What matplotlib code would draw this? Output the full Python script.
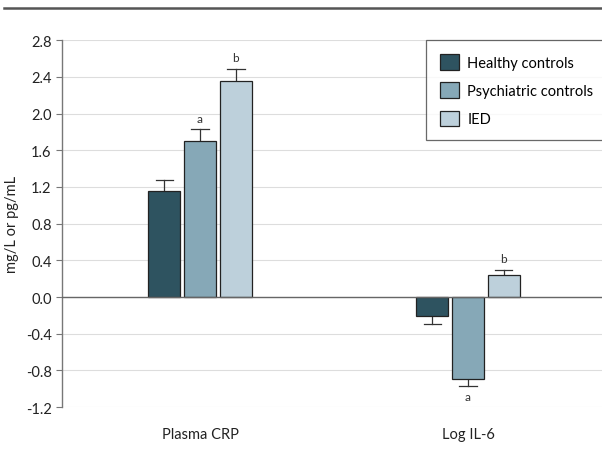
import matplotlib
matplotlib.use("Agg")
import matplotlib.pyplot as plt
from matplotlib.lines import Line2D
import numpy as np

plt.rcParams['font.family'] = ['Lato', 'DejaVu Sans']

# data
categories = ["Plasma CRP", "Log IL-6"]
groups = ["Healthy controls", "Psychiatric controls", "IED"]
means = {
    "Healthy controls": [1.155, -0.21],
    "Psychiatric controls": [1.70, -0.89],
    "IED": [2.35, 0.235],
}
errs = {
    "Healthy controls": [0.12, 0.08],
    "Psychiatric controls": [0.13, 0.08],
    "IED": [0.14, 0.065],
}
# significance letters: (category index, group, letter)
marks = [(0, "Psychiatric controls", "a"), (0, "IED", "b"),
         (1, "IED", "b"), (1, "Psychiatric controls", "a")]
colors = ["#2e5360", "#86a8b7", "#bdd0db"]
yticks = [-1.2, -0.8, -0.4, 0.0, 0.4, 0.8, 1.2, 1.6, 2.0, 2.4, 2.8]

fig = plt.figure(figsize=(6.02, 4.52), dpi=100)
ax = fig.add_axes([0.103, 0.097, 0.897, 0.812])

x = np.arange(len(categories))
w = 0.12
step = 0.134
for i, g in enumerate(groups):
    xs = x + (i - 1) * step
    ax.bar(xs, means[g], width=w, color=colors[i], edgecolor="#222222",
           linewidth=0.9, zorder=3, label=g)
    # one-sided error bars away from zero
    for xi, m, e in zip(xs, means[g], errs[g]):
        sgn = 1 if m >= 0 else -1
        ax.plot([xi, xi], [m, m + sgn * e], color="#333333", lw=0.9, zorder=2)
        ax.plot([xi - 0.032, xi + 0.032], [m + sgn * e] * 2, color="#333333",
                lw=0.9, zorder=2)

for ci, g, letter in marks:
    gi = groups.index(g)
    m = means[g][ci]
    e = errs[g][ci]
    xi = x[ci] + (gi - 1) * step
    if m >= 0:
        ax.text(xi, m + e + 0.06, letter, ha="center", va="bottom",
                fontsize=8.5, color="#333333")
    else:
        ax.text(xi, m - e - 0.05, letter, ha="center", va="top",
                fontsize=8.5, color="#333333")

ax.set_ylim(-1.2, 2.8)
ax.set_xlim(-0.515, 1.5)
ax.set_yticks(yticks)
ax.set_yticklabels([f"{t:.1f}" for t in yticks])
ax.set_xticks(x)
ax.set_xticklabels(categories)
ax.tick_params(axis="x", length=0, pad=14, labelsize=10.5, colors="#222222")
ax.tick_params(axis="y", length=4, width=0.8, color="#777777", labelsize=10.5,
               labelcolor="#222222")
ax.set_ylabel("mg/L or pg/mL", fontsize=10.5, color="#222222", labelpad=5)

for s in ["top", "right", "bottom"]:
    ax.spines[s].set_visible(False)
ax.spines["left"].set_color("#777777")
ax.spines["left"].set_linewidth(1.0)
ax.grid(axis="y", color="#dddddd", lw=0.8, zorder=0)
ax.axhline(0, color="#666666", lw=1.0, zorder=4)

leg = ax.legend(loc="upper right", bbox_to_anchor=(1.01, 1.0), frameon=True,
                fancybox=False, fontsize=10.5, handlelength=1.3,
                handleheight=1.3, borderpad=0.95, labelspacing=0.85,
                handletextpad=0.6, borderaxespad=0)
leg.get_frame().set_edgecolor("#444444")
leg.get_frame().set_linewidth(0.9)

fig.add_artist(Line2D([0.007, 1.0], [0.98, 0.98], color="#555555", lw=1.8,
                      transform=fig.transFigure))

fig.savefig("out.png", dpi=100)
